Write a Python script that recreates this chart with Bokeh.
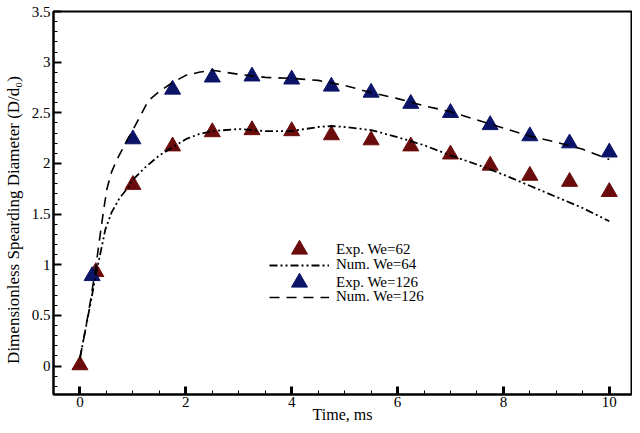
from bokeh.plotting import figure
from bokeh.models import Range1d, SingleIntervalTicker, CustomJSTickFormatter, Legend, LegendItem
from bokeh.embed import file_html
from bokeh.resources import INLINE

# Experimental data
exp62_t = [0.0, 0.3, 1.0, 1.75, 2.5, 3.25, 4.0, 4.75, 5.5, 6.25, 7.0, 7.75, 8.5, 9.25, 10.0]
exp62_d = [0.01, 0.93, 1.79, 2.17, 2.31, 2.33, 2.32, 2.28, 2.23, 2.17, 2.09, 1.98, 1.88, 1.82, 1.72]

exp126_t = [0.23, 1.0, 1.75, 2.5, 3.25, 4.0, 4.75, 5.5, 6.25, 7.0, 7.75, 8.5, 9.25, 10.0]
exp126_d = [0.89, 2.24, 2.73, 2.85, 2.86, 2.83, 2.76, 2.70, 2.59, 2.50, 2.38, 2.27, 2.20, 2.11]

# Numerical curves
num64_t = [0.0, 0.1, 0.2, 0.3, 0.4, 0.48, 0.6, 0.75, 0.89, 1.0, 1.25, 1.5, 1.75, 2.0, 2.25, 2.5,
           3.0, 3.5, 4.0, 4.5, 4.75, 5.0, 5.5, 6.0, 6.5, 7.0, 7.5, 8.0, 8.5, 9.0, 9.5, 10.0]
num64_d = [0.08, 0.35, 0.62, 0.90, 1.15, 1.35, 1.52, 1.66, 1.75, 1.84, 1.97, 2.08, 2.16, 2.24, 2.29, 2.32,
           2.34, 2.32, 2.32, 2.36, 2.37, 2.36, 2.33, 2.26, 2.18, 2.08, 1.99, 1.89, 1.78, 1.67, 1.56, 1.43]

num126_t = [0.0, 0.1, 0.2, 0.3, 0.38, 0.45, 0.51, 0.6, 0.7, 0.8, 0.9, 1.0, 1.17, 1.29, 1.5, 1.75, 2.0,
            2.25, 2.5, 3.0, 3.5, 4.0, 4.5, 5.0, 5.5, 6.0, 6.5, 7.0, 7.5, 8.0, 8.5, 9.0, 9.5, 10.0]
num126_d = [0.08, 0.35, 0.65, 0.98, 1.29, 1.55, 1.75, 1.92, 2.04, 2.14, 2.24, 2.33, 2.50, 2.62, 2.71, 2.80, 2.87,
            2.90, 2.92, 2.88, 2.85, 2.84, 2.82, 2.77, 2.70, 2.64, 2.57, 2.51, 2.43, 2.35, 2.27, 2.21, 2.14, 2.04]

labels = ["Exp. We=62", "Num. We=64", "Exp. We=126", "Num. We=126"]

FONT = "Liberation Serif"
RED = "#6b0c0c"
BLUE = "#0c1468"

p = figure(width=632, height=425, output_backend="svg", toolbar_location=None,
           x_range=Range1d(-0.5, 10.42), y_range=Range1d(-0.28, 3.5),
           min_border_left=51, min_border_top=11, min_border_right=1, min_border_bottom=29)
p.xgrid.visible = False
p.ygrid.visible = False
p.outline_line_color = "black"
p.outline_line_width = 2
p.background_fill_color = "white"
p.border_fill_color = "white"

p.xaxis.ticker = SingleIntervalTicker(interval=2, num_minor_ticks=4)
p.yaxis.ticker = SingleIntervalTicker(interval=0.5, num_minor_ticks=5)
p.yaxis.formatter = CustomJSTickFormatter(code="return String(Math.round(tick*10)/10)")
p.xaxis.formatter = CustomJSTickFormatter(code="return String(Math.round(tick))")

for ax in (p.xaxis[0], p.yaxis[0]):
    ax.axis_line_width = 2
    ax.major_tick_out = 0
    ax.minor_tick_out = 0
    ax.major_tick_in = 8
    ax.minor_tick_in = 4
    ax.major_tick_line_width = 2
    ax.minor_tick_line_width = 1
    ax.major_label_text_font = FONT
    ax.major_label_text_font_size = "15px"
    ax.major_label_text_color = "black"
    ax.axis_label_text_font = FONT
    ax.axis_label_text_font_style = "normal"
    ax.axis_label_text_color = "black"
p.xaxis.axis_label_text_font_size = "16px"
p.yaxis.axis_label_text_font_size = "17px"
p.xaxis.major_tick_line_width = 3
p.xaxis.major_label_standoff = 2
p.yaxis.major_label_standoff = 3
p.xaxis.axis_label_standoff = -4
p.yaxis.axis_label_standoff = 6
p.xaxis.axis_label = "Time, ms"
p.yaxis.axis_label = "Dimensionless Spearding Diameter (D/d\u2080)" + "\u00a0" * 8

r1 = p.scatter(exp62_t, exp62_d, marker="triangle", size=16, fill_color=RED, line_color=RED)
r3 = p.scatter(exp126_t, exp126_d, marker="triangle", size=16, fill_color=BLUE, line_color=BLUE)
r2 = p.line(num64_t, num64_d, line_color="black", line_width=1.8, line_dash="8 3 2 3 2 3")
r4 = p.line(num126_t, num126_d, line_color="black", line_width=1.6, line_dash="10 7")


def make_legend(label, renderer, gh, loc):
    lg = Legend(items=[LegendItem(label=label, renderers=[renderer])],
                location=loc, orientation="vertical",
                glyph_width=60, glyph_height=gh, label_height=16, spacing=0,
                padding=0, margin=0, label_standoff=7,
                border_line_color=None, background_fill_alpha=0,
                label_text_font=FONT, label_text_font_size="15px", label_text_color="black")
    p.add_layout(lg, "center")


make_legend(labels[0], r1, 40, (216, 125))
make_legend(labels[1], r2, 16, (216, 121))
make_legend(labels[2], r3, 40, (216, 92))
make_legend(labels[3], r4, 16, (216, 89))

open("out.html", "w").write(file_html(p, INLINE))
